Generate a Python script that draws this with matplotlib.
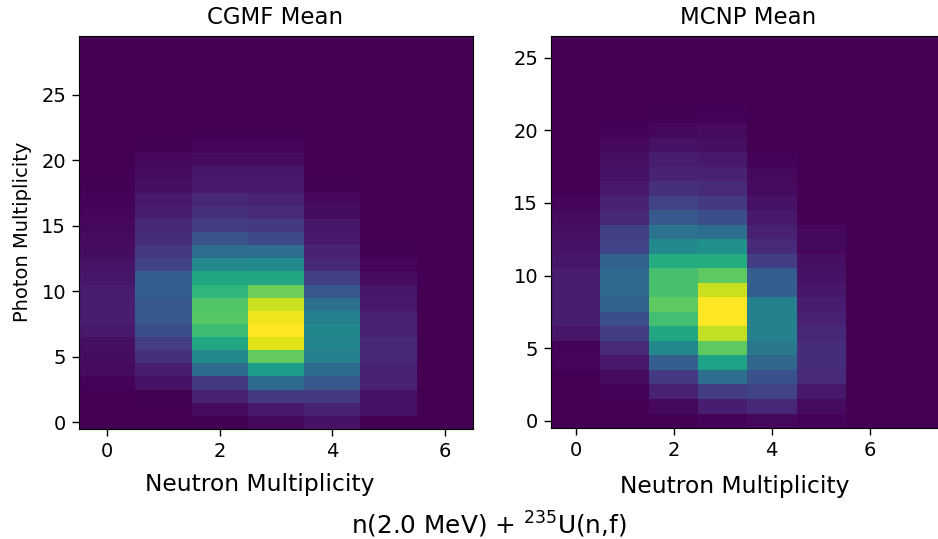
import matplotlib
matplotlib.use('Agg')
import matplotlib.pyplot as plt
import numpy as np

# columns are neutron multiplicity, lists run from photon multiplicity 0 upward
cgmf_n0 = [0, 0, 0, .01, .03, .035, .04, .07, .08, .08, .08, .06, .05, .035, .03, .02, .015, .01, .005]
cgmf_n1 = [0, 0, .005, .05, .08, .14, .18, .24, .28, .28, .3, .3, .2, .17, .13, .11, .08, .07, .04, .03, .02, .005]
cgmf_n2 = [.005, .03, .09, .17, .35, .47, .6, .69, .74, .73, .66, .6, .47, .36, .26, .18, .14, .11, .07, .06, .03, .015, .005]
cgmf_n3 = [.02, .07, .17, .35, .55, .76, .95, 1.0, .98, .92, .78, .6, .48, .36, .22, .17, .12, .1, .07, .06, .03, .015, .005]
cgmf_n4 = [.05, .1, .17, .28, .35, .43, .45, .46, .43, .37, .27, .19, .11, .1, .07, .06, .035, .02, .005]
cgmf_n5 = [0, .05, .05, .09, .1, .11, .11, .09, .09, .07, .06, .03, .015, .005]
cgmf_n6 = [0]

mcnp_n0 = [0, 0, 0, 0, .015, .01, .06, .08, .08, .08, .08, .06, .05, .04, .03, .015]
mcnp_n1 = [0, 0, .01, .03, .07, .12, .18, .24, .31, .34, .34, .31, .2, .19, .11, .1, .07, .05, .04, .02, .01]
mcnp_n2 = [0, .02, .09, .17, .3, .47, .6, .7, .75, .71, .71, .62, .48, .38, .28, .2, .14, .1, .08, .05, .02, .005]
mcnp_n3 = [.01, .08, .18, .36, .58, .75, .91, 1.0, 1.0, .92, .75, .62, .5, .36, .24, .17, .12, .09, .07, .04, .03, .01]
mcnp_n4 = [.02, .11, .2, .25, .33, .4, .44, .44, .44, .3, .3, .18, .12, .09, .07, .05, .03, .02, .01]
mcnp_n5 = [.01, .03, .07, .12, .13, .13, .11, .09, .08, .06, .05, .04, .02, .02]
mcnp_n6 = [.002]
mcnp_n7 = [0]


def to_grid(columns, rows):
    grid = np.zeros((rows, len(columns)))
    for i, col in enumerate(columns):
        grid[:len(col), i] = col
    return grid


fig = plt.figure(figsize=(9.38, 5.39), dpi=100)
W, H = 938.0, 539.0

ax1 = fig.add_axes([79 / W, 1 - 429 / H, 394 / W, 393 / H])
ax1.imshow(to_grid([cgmf_n0, cgmf_n1, cgmf_n2, cgmf_n3, cgmf_n4, cgmf_n5, cgmf_n6], 30),
           origin='lower', aspect='auto', cmap='viridis', vmin=0, vmax=1, interpolation='nearest')
ax1.set_xticks([0, 2, 4, 6])
ax1.set_yticks([0, 5, 10, 15, 20, 25])

# right axes runs past the edge of the figure, the reference is cropped there
ax2 = fig.add_axes([551 / W, 1 - 428 / H, 392 / W, 392 / H])
ax2.imshow(to_grid([mcnp_n0, mcnp_n1, mcnp_n2, mcnp_n3, mcnp_n4, mcnp_n5, mcnp_n6, mcnp_n7], 27),
           origin='lower', aspect='auto', cmap='viridis', vmin=0, vmax=1, interpolation='nearest')
ax2.set_xticks([0, 2, 4, 6])
ax2.set_yticks([0, 5, 10, 15, 20, 25])

for ax in (ax1, ax2):
    ax.tick_params(labelsize=14, length=4.8, width=1, pad=4.5)

fig.text(275 / W, 1 - 17 / H, 'CGMF Mean', fontsize=16.5, ha='center', va='center')
fig.text(748 / W, 1 - 17 / H, 'MCNP Mean', fontsize=16.5, ha='center', va='center')
fig.text(260 / W, 1 - 484 / H, 'Neutron Multiplicity', fontsize=16.8, ha='center', va='center')
fig.text(735 / W, 1 - 486 / H, 'Neutron Multiplicity', fontsize=16.8, ha='center', va='center')
fig.text(22 / W, 1 - 232 / H, 'Photon Multiplicity', fontsize=14, rotation=90, ha='center', va='center')
fig.text(489 / W, 1 - 525 / H, 'n(2.0 MeV) + $^{235}$U(n,f)', fontsize=17.8, ha='center', va='center',
         math_fontfamily='dejavusans')
fig.savefig('out.png', dpi=100)
